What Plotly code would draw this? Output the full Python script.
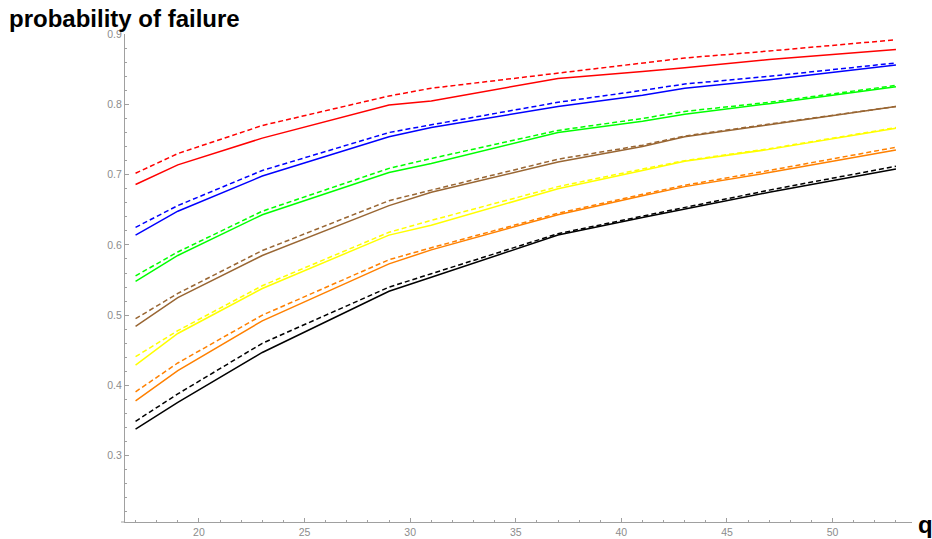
import plotly.graph_objects as go

q = [17, 19, 23, 29, 31, 37, 41, 43, 47, 53]

red_dashed    = [0.702, 0.730, 0.770, 0.812, 0.823, 0.845, 0.859, 0.866, 0.876, 0.892]
red_solid     = [0.686, 0.714, 0.752, 0.799, 0.805, 0.837, 0.847, 0.852, 0.864, 0.878]
blue_dashed   = [0.625, 0.656, 0.706, 0.760, 0.771, 0.803, 0.820, 0.829, 0.840, 0.859]
blue_solid    = [0.614, 0.648, 0.698, 0.754, 0.767, 0.797, 0.813, 0.823, 0.835, 0.856]
green_dashed  = [0.556, 0.590, 0.648, 0.709, 0.723, 0.763, 0.780, 0.790, 0.803, 0.827]
green_solid   = [0.548, 0.585, 0.643, 0.703, 0.716, 0.760, 0.776, 0.786, 0.801, 0.825]
brown_dashed  = [0.495, 0.531, 0.592, 0.663, 0.678, 0.722, 0.742, 0.755, 0.772, 0.797]
brown_solid   = [0.484, 0.525, 0.585, 0.656, 0.675, 0.718, 0.740, 0.754, 0.771, 0.797]
yellow_dashed = [0.441, 0.478, 0.542, 0.618, 0.635, 0.683, 0.708, 0.720, 0.737, 0.767]
yellow_solid  = [0.429, 0.474, 0.538, 0.614, 0.628, 0.680, 0.706, 0.719, 0.736, 0.766]
orange_dashed = [0.391, 0.432, 0.500, 0.579, 0.596, 0.645, 0.672, 0.685, 0.706, 0.739]
orange_solid  = [0.378, 0.421, 0.492, 0.573, 0.593, 0.643, 0.670, 0.683, 0.703, 0.735]
black_dashed  = [0.349, 0.388, 0.460, 0.540, 0.559, 0.616, 0.641, 0.653, 0.678, 0.712]
black_solid   = [0.338, 0.376, 0.447, 0.534, 0.554, 0.614, 0.639, 0.651, 0.675, 0.708]

series = [
    (black_solid, black_dashed, "#000000"),
    (orange_solid, orange_dashed, "#FF8000"),
    (yellow_solid, yellow_dashed, "#FFFF00"),
    (brown_solid, brown_dashed, "#996633"),
    (green_solid, green_dashed, "#00FF00"),
    (blue_solid, blue_dashed, "#0000FF"),
    (red_solid, red_dashed, "#FF0000"),
]

fig = go.Figure()
for solid, dashed, col in series:
    fig.add_trace(go.Scatter(x=q, y=solid, mode="lines",
                             line=dict(color=col, width=1.5), hoverinfo="skip"))
    fig.add_trace(go.Scatter(x=q, y=dashed, mode="lines",
                             line=dict(color=col, width=1.5, dash="5px,3px"), hoverinfo="skip"))

axcol = "#a0a0a0"
tickfont = dict(family="Liberation Sans, Arial", size=10.5, color="#8c8c8c")
fig.update_layout(
    width=932, height=539,
    margin=dict(l=125, r=20, t=34, b=17),
    paper_bgcolor="white", plot_bgcolor="white",
    showlegend=False,
    xaxis=dict(range=[16.5, 53.76], showgrid=False, zeroline=False, automargin=False,
               showline=True, linecolor=axcol, linewidth=1,
               ticks="inside", ticklen=4, tickcolor=axcol, tickwidth=1,
               tick0=0, dtick=5,
               minor=dict(ticks="inside", ticklen=2, tickcolor=axcol, dtick=1, tick0=0),
               tickfont=tickfont),
    yaxis=dict(range=[0.2057, 0.9002], showgrid=False, zeroline=False, automargin=False,
               showline=True, linecolor=axcol, linewidth=1,
               ticks="inside", ticklen=4, tickcolor=axcol, tickwidth=1,
               tick0=0, dtick=0.1, tickformat=".1f",
               minor=dict(ticks="inside", ticklen=2, tickcolor=axcol, dtick=0.02, tick0=0),
               tickfont=tickfont),
    shapes=[dict(type="line", xref="paper", yref="paper",
                 x0=-4/787, x1=0, y0=0, y1=0,
                 line=dict(color=axcol, width=1))],
    annotations=[
        dict(text="<b>probability of failure</b>", xref="paper", yref="paper",
             x=(7 - 125) / 787, y=(522 - 19) / 488, xanchor="left", yanchor="middle",
             showarrow=False,
             font=dict(family="Liberation Sans, Arial", size=24, color="black")),
        dict(text="<b>q</b>", xref="paper", yref="paper",
             x=(916 - 125) / 787, y=(522 - 524) / 488, xanchor="left", yanchor="middle",
             showarrow=False,
             font=dict(family="Liberation Sans, Arial", size=24, color="black")),
    ],
)

fig.write_html("out.html", config={"displayModeBar": False},
               post_script="document.body.style.margin='0';")
